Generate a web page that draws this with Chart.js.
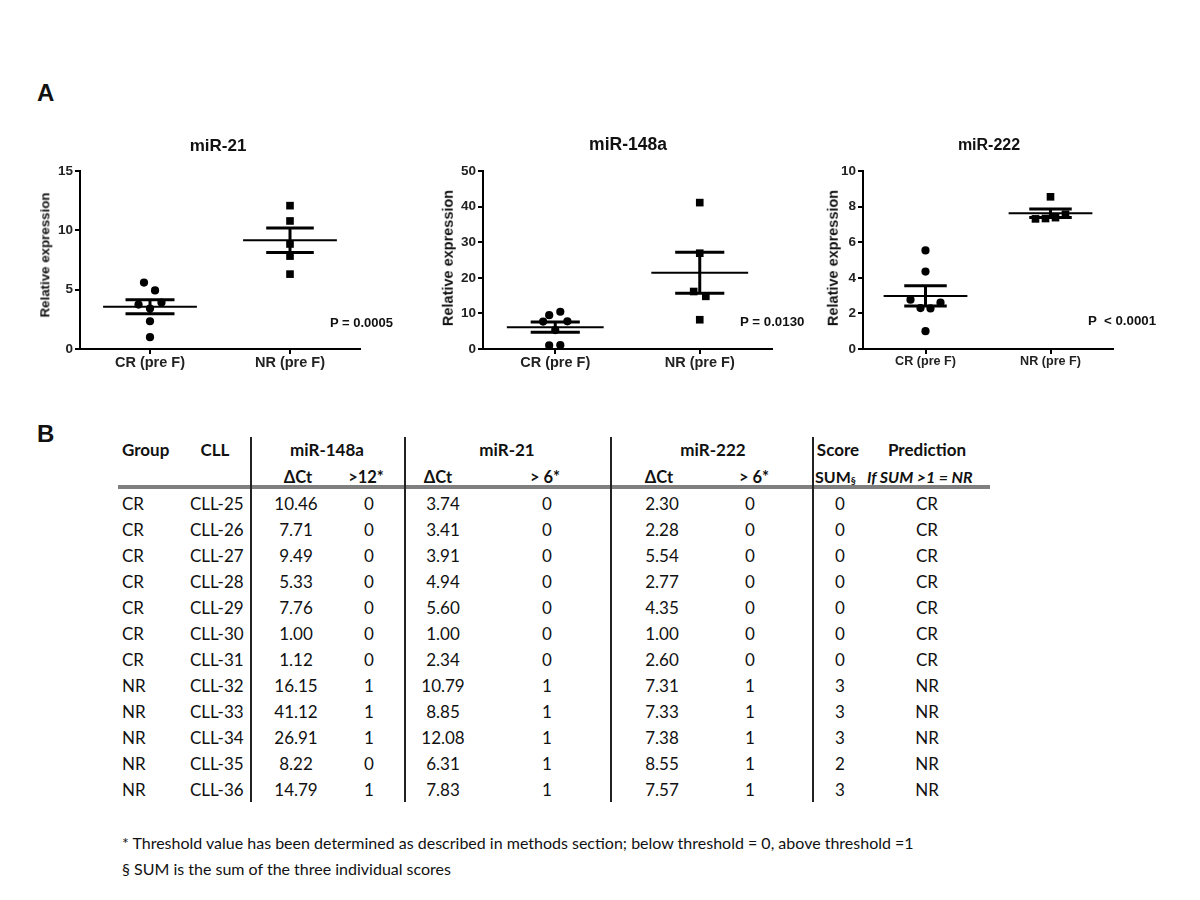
<!DOCTYPE html>
<html><head><meta charset="utf-8">
<script src="https://cdn.jsdelivr.net/npm/chart.js@4.4.0/dist/chart.umd.min.js"></script>
<style>
html,body{margin:0;padding:0;background:#fff}
body{width:1200px;height:900px;position:relative;overflow:hidden;font-family:'Liberation Sans',Arial,sans-serif;color:#111}
canvas{position:absolute}
.abs{position:absolute;white-space:pre;line-height:1}
.c{transform:translate(-50%,-50%)}
.lv{transform:translate(0,-50%)}
.b{font-weight:bold}
.tb{font-family:Lato,'Open Sans',sans-serif;font-size:17px;color:#111}
.rot{transform:translate(-50%,-50%) rotate(-90deg)}
</style></head><body>
<canvas id="c1" width="360" height="240" style="left:20px;top:150px"></canvas>
<canvas id="c2" width="369" height="240" style="left:423px;top:150px"></canvas>
<canvas id="c3" width="330" height="240" style="left:803px;top:150px"></canvas>
<div id="overlay"></div>
<script>
// ---------- data ----------
const groupLabels = ['CR (pre F)', 'NR (pre F)'];
const groups  = ['CR','CR','CR','CR','CR','CR','CR','NR','NR','NR','NR','NR'];
const cllIds  = ['CLL-25','CLL-26','CLL-27','CLL-28','CLL-29','CLL-30','CLL-31','CLL-32','CLL-33','CLL-34','CLL-35','CLL-36'];
const miR148aDCt   = [10.46, 7.71, 9.49, 5.33, 7.76, 1.00, 1.12, 16.15, 41.12, 26.91, 8.22, 14.79];
const miR148aScore = [0,0,0,0,0,0,0,1,1,1,0,1];
const miR21DCt     = [3.74, 3.41, 3.91, 4.94, 5.60, 1.00, 2.34, 10.79, 8.85, 12.08, 6.31, 7.83];
const miR21Score   = [0,0,0,0,0,0,0,1,1,1,1,1];
const miR222DCt    = [2.30, 2.28, 5.54, 2.77, 4.35, 1.00, 2.60, 7.31, 7.33, 7.38, 8.55, 7.57];
const miR222Score  = [0,0,0,0,0,0,0,1,1,1,1,1];
const scoreSum     = [0,0,0,0,0,0,0,3,3,3,2,3];
const prediction   = ['CR','CR','CR','CR','CR','CR','CR','NR','NR','NR','NR','NR'];
// mean and SEM per group [CR, NR] as shown in the plots
const miR21Mean  = [3.56, 9.17];  const miR21Sem  = [0.58, 1.03];
const miR148aMean= [6.12, 21.44]; const miR148aSem= [1.44, 5.76];
const miR222Mean = [2.98, 7.63];  const miR222Sem = [0.57, 0.24];
const pLabels = ['P = 0.0005', 'P = 0.0130', 'P  < 0.0001'];
const titles  = ['miR-21', 'miR-148a', 'miR-222'];

// horizontal scatter jitter (layout only, in category units)
const jit21  = [-0.082, 0, 0.082, 0.036, -0.043, 0, 0, 0, 0, 0, 0, 0];
const jit148 = [0.035, -0.084, -0.042, 0, 0.084, -0.042, 0.035, -0.042, 0, 0, 0, 0.042];
const jit222 = [-0.04, 0.04, 0, -0.12, 0, 0, 0.12, -0.12, -0.04, 0.04, 0, 0.12];

const FONT = "'Liberation Sans', Arial, sans-serif";

function seg(x1,y1,x2,y2,w){
  return {data:[{x:x1,y:y1},{x:x2,y:y2}], showLine:true, borderColor:'#000', borderWidth:w,
          pointRadius:0, order:0, borderCapStyle:'butt'};
}

function panel(id, values, jit, mean, sem, yMax, yStep, catSize, semHalf){
  const cr = [], nr = [];
  values.forEach((v,i)=>{
    if(groups[i]==='CR') cr.push({x:0+jit[i], y:v}); else nr.push({x:1+jit[i], y:v});
  });
  const ds = [];
  [0,1].forEach(g=>{
    ds.push(seg(g-0.335, mean[g], g+0.335, mean[g], 2));
    ds.push(seg(g-semHalf[g], mean[g]+sem[g], g+semHalf[g], mean[g]+sem[g], 3));
    ds.push(seg(g-semHalf[g], mean[g]-sem[g], g+semHalf[g], mean[g]-sem[g], 3));
    ds.push(seg(g, mean[g]-sem[g], g, mean[g]+sem[g], 3));
  });
  ds.push({data:cr, pointStyle:'circle', pointRadius:4.1, backgroundColor:'#000', borderColor:'#000', borderWidth:0, order:1});
  ds.push({data:nr, pointStyle:'rect', pointRadius:5.4, backgroundColor:'#000', borderColor:'#000', borderWidth:0, order:1});
  const canvas = document.getElementById(id);
  new Chart(canvas, {
    type:'scatter',
    data:{datasets:ds},
    options:{
      responsive:false, animation:false, devicePixelRatio:1,
      layout:{padding:{left:0, right:20, top:21, bottom:0}},
      plugins:{legend:{display:false}, tooltip:{enabled:false}},
      scales:{
        x:{type:'linear', min:-0.5, max:1.5,
           afterBuildTicks:s=>{ s.ticks=[{value:0},{value:1}]; },
           afterFit:s=>{ s.height = 41; },
           ticks:{callback:v=>groupLabels[v], font:{family:FONT, weight:'bold', size:catSize}, color:'#222', padding:0, maxRotation:0},
           grid:{drawOnChartArea:false, drawTicks:true, tickLength:5, color:'#000', lineWidth:2},
           border:{color:'#000', width:2}},
        y:{min:0, max:yMax,
           afterFit:s=>{ s.width = 60; },
           ticks:{stepSize:yStep, font:{family:FONT, weight:'bold', size:13.5}, color:'#222', padding:2},
           grid:{drawOnChartArea:false, drawTicks:true, tickLength:5, color:'#000', lineWidth:2},
           border:{color:'#000', width:2}}
      }
    }
  });
}
panel('c1', miR21DCt, jit21, miR21Mean, miR21Sem, 15, 5, 14.5, [0.175,0.17]);
panel('c2', miR148aDCt, jit148, miR148aMean, miR148aSem, 50, 10, 14.5, [0.17,0.17]);
panel('c3', miR222DCt, jit222, miR222Mean, miR222Sem, 10, 2, 12.6, [0.17,0.17]);

// ---------- text overlays ----------
const ov = document.getElementById('overlay');
function txt(html, x, y, cls, style){
  const d = document.createElement('div');
  d.className = 'abs ' + cls;
  d.style.left = x + 'px'; d.style.top = y + 'px';
  if(style) d.style.cssText += style;
  d.innerHTML = html;
  ov.appendChild(d);
  return d;
}
txt('A', 37, 93, 'b lv', 'font-size:24px');
txt('B', 37, 434, 'b lv', 'font-size:24px');
// chart titles
txt(titles[0], 218, 145, 'b c', 'font-size:17px');
txt(titles[1], 628, 145, 'b c', 'font-size:17.5px');
txt(titles[2], 989, 145, 'b c', 'font-size:16px');
// y axis labels
txt('Relative expression', 45, 255, 'b rot', 'font-size:13.3px');
txt('Relative expression', 448, 258, 'b rot', 'font-size:14.5px');
txt('Relative expression', 833, 258, 'b rot', 'font-size:14.5px');
// p-values
txt(pLabels[0], 330, 322, 'b lv', 'font-size:13px');
txt(pLabels[1], 740, 322, 'b lv', 'font-size:13.3px');
txt(pLabels[2], 1088, 321, 'b lv', 'font-size:13.3px');

// ---------- table ----------
function cell(s, x, y, align, extra){
  const d = document.createElement('div');
  d.className = 'abs tb';
  d.style.top = (y - 13) + 'px';
  d.style.height = '26px';
  d.style.lineHeight = '26px';
  if(align==='c'){ d.style.left = (x-80)+'px'; d.style.width='160px'; d.style.textAlign='center'; }
  else { d.style.left = x + 'px'; }
  if(extra) d.style.cssText += extra;
  d.innerHTML = s;
  ov.appendChild(d);
}
const B = 'font-weight:bold;';
cell('Group', 122, 450, 'l', B);
cell('CLL', 215, 450, 'c', B);
cell('miR-148a', 327, 450, 'c', B);
cell('miR-21', 507, 450, 'c', B);
cell('miR-222', 713, 450, 'c', B);
cell('Score', 838, 450, 'c', B);
cell('Prediction', 927, 450, 'c', B);
cell('ΔCt', 298, 477, 'c', B+'font-size:16.5px');
cell('&gt;12*', 366, 477, 'c', B+'font-size:16.5px');
cell('ΔCt', 438, 477, 'c', B+'font-size:16.5px');
cell('&gt; 6*', 545, 477, 'c', B+'font-size:16.5px');
cell('ΔCt', 659, 477, 'c', B+'font-size:16.5px');
cell('&gt; 6*', 754, 477, 'c', B+'font-size:16.5px');
cell('SUM<span style="font-size:10px;vertical-align:-1px">§</span>', 815, 477, 'l', B+'font-size:16px');
cell('If SUM &gt;1 = NR', 867, 477, 'l', B+'font-style:italic;font-size:16px');
groups.forEach((g,i)=>{
  const y = 504 + 26*i;
  cell(g, 122, y, 'l');
  cell(cllIds[i], 190, y, 'l');
  cell(miR148aDCt[i].toFixed(2), 296, y, 'c');
  cell(String(miR148aScore[i]), 369, y, 'c');
  cell(miR21DCt[i].toFixed(2), 443, y, 'c');
  cell(String(miR21Score[i]), 547, y, 'c');
  cell(miR222DCt[i].toFixed(2), 662, y, 'c');
  cell(String(miR222Score[i]), 750, y, 'c');
  cell(String(scoreSum[i]), 840, y, 'c');
  cell(prediction[i], 927, y, 'c');
});
// rules
function box(x,y,w,h,col){
  const d=document.createElement('div');
  d.style.cssText='position:absolute;left:'+x+'px;top:'+y+'px;width:'+w+'px;height:'+h+'px;background:'+col;
  ov.appendChild(d);
}
box(118, 485, 872, 4, '#7f7f7f');
[250, 404, 610, 812].forEach(x=>box(x, 437, 2, 365, '#222'));
// footnotes
cell('* Threshold value has been determined as described in methods section; below threshold = 0, above threshold =1', 122, 843, 'l', 'font-size:16px');
cell('§ SUM is the sum of the three individual scores', 122, 869, 'l', 'font-size:16px');
</script>
</body></html>
